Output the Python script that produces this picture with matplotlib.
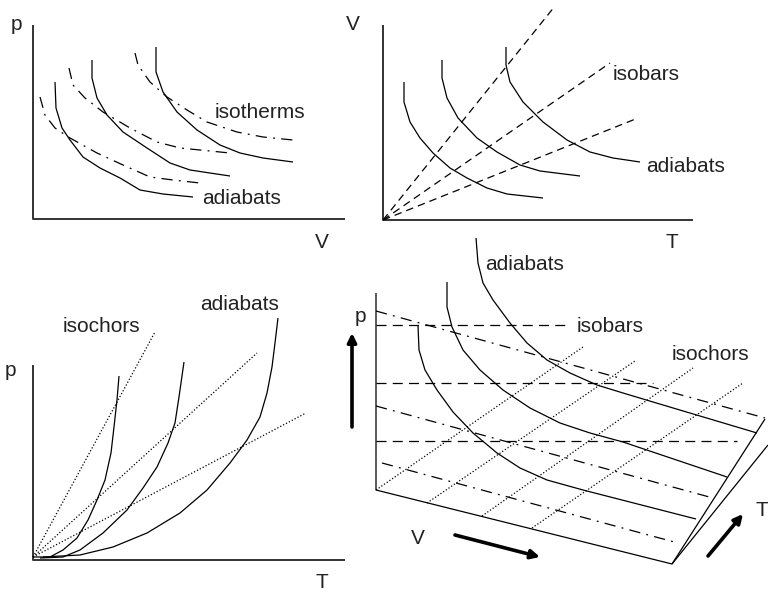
import numpy as np
import matplotlib.pyplot as plt

plt.rcParams['font.family'] = ['Liberation Sans', 'DejaVu Sans']

# all sketches share one canvas, coordinates in drawing units (y grows downward)

# ---- p-V (top left)
pv_frame = [(33, 25), (33, 219), (345, 219)]
pv_adiabats = [
    [(55, 82), (56, 108), (62, 128), (70, 140), (83, 157), (100, 168), (120, 178),
     (140, 190), (163, 194), (193, 197)],
    [(92, 60), (92, 78), (97, 98), (107, 115), (123, 132), (147, 148), (170, 163),
     (190, 170), (230, 176)],
    [(156, 47), (156, 72), (163, 92), (177, 112), (197, 130), (220, 145), (240, 153),
     (263, 158), (293, 162)],
]
pv_isotherms = [
    [(40, 97), (45, 115), (55, 128), (70, 138), (97, 153), (123, 165), (150, 177),
     (173, 180), (200, 183)],
    [(69, 68), (73, 85), (85, 98), (103, 112), (130, 128), (157, 142), (180, 148), (230, 153)],
    [(135, 53), (138, 65), (150, 82), (167, 97), (187, 110), (207, 122), (237, 132),
     (263, 137), (293, 140)],
]

# ---- V-T (top right)
vt_frame = [(383, 25), (383, 220), (693, 220)]
vt_origin = (383, 220)
vt_isobar_ends = [(555, 6), (610, 63), (638, 118)]
vt_adiabats = [
    [(404, 82), (404, 102), (410, 122), (420, 138), (433, 153), (450, 168), (467, 178),
     (487, 188), (507, 194), (543, 198)],
    [(442, 60), (442, 78), (447, 98), (458, 118), (477, 138), (497, 152), (520, 165),
     (540, 171), (580, 176)],
    [(506, 47), (506, 65), (510, 82), (523, 102), (543, 122), (567, 140), (590, 152),
     (613, 158), (640, 162)],
]

# ---- p-T (bottom left)
pt_frame = [(33, 365), (33, 560), (345, 560)]
pt_origin = (33, 557)
pt_isochor_ends = [(155, 332), (257, 353), (306, 413)]
pt_adiabats = [
    [(33, 557), (50, 557), (63, 550), (77, 538), (88, 520), (97, 500), (105, 480),
     (111, 453), (114, 427), (117, 400), (119, 376)],
    [(40, 558), (63, 557), (80, 550), (103, 533), (127, 510), (143, 488), (157, 467),
     (168, 443), (175, 423), (179, 397), (184, 362)],
    [(43, 557), (80, 555), (113, 547), (147, 533), (180, 513), (207, 490), (230, 463),
     (247, 440), (260, 417), (267, 393), (272, 367), (275, 343), (278, 318)],
]

# ---- p-V-T surface (bottom right)
pvt_edges = [
    [(376, 293), (376, 490), (672, 564), (765, 419)],
    [(672, 564), (768, 445)],
]
pvt_isobars = [((376, 325), (568, 325)), ((376, 383), (653, 383)), ((376, 441), (737, 441))]
pvt_isotherms = [((376, 311), (765, 418)), ((376, 406), (713, 498)), ((382, 463), (678, 543))]
pvt_isochors = [((376, 490), (583, 347)), ((427, 503), (635, 361)),
                ((482, 516), (693, 368)), ((532, 528), (743, 383))]
pvt_adiabats = [
    [(418, 325), (419, 350), (425, 370), (437, 390), (453, 412), (473, 433), (497, 453),
     (520, 468), (547, 480), (583, 490), (696, 519)],
    [(447, 282), (447, 307), (452, 327), (463, 350), (480, 370), (503, 390), (530, 408),
     (560, 423), (590, 433), (623, 442), (727, 477)],
    [(476, 238), (478, 263), (483, 283), (493, 300), (510, 323), (527, 343), (547, 360),
     (570, 373), (597, 385), (623, 393), (653, 402), (757, 433)],
]
pvt_arrows = {'p': ((352, 427), (352, 333)), 'V': ((455, 535), (540, 557)), 'T': ((708, 556), (743, 514))}

labels = [
    ('p', 16, 25), ('V', 322, 243), ('isotherms', 215, 112), ('adiabats', 202, 199),
    ('V', 353, 24), ('T', 672, 242), ('isobars', 613, 75), ('adiabats', 646, 167),
    ('p', 10, 370), ('T', 322, 583), ('isochors', 63, 326), ('adiabats', 200, 304),
    ('p', 360, 317), ('adiabats', 485, 264), ('isobars', 577, 326), ('isochors', 672, 355),
    ('V', 418, 538), ('T', 762, 510),
]

fig = plt.figure(figsize=(7.68, 5.92), dpi=100)
ax = fig.add_axes([0, 0, 1, 1])
ax.set_xlim(0, 768)
ax.set_ylim(592, 0)
ax.axis('off')

lw = 0.9
solid = dict(color='k', lw=lw)
dashdot = dict(color='k', lw=lw, linestyle=(0, (9, 5, 1.5, 5)))
dashed = dict(color='k', lw=lw, linestyle=(0, (6, 4)))
dashed_long = dict(color='k', lw=lw, linestyle=(0, (8, 5)))
dotted = dict(color='k', lw=lw, linestyle=(0, (1, 1.6)))
frame = dict(color='#333333', lw=1.4)


def line(pts, **kw):
    pts = np.array(pts)
    ax.plot(pts[:, 0], pts[:, 1], solid_capstyle='butt', solid_joinstyle='round', **kw)


for fr in (pv_frame, vt_frame, pt_frame):
    line(fr, **frame)

for c in pv_adiabats:
    line(c, **solid)
for c in pv_isotherms:
    line(c, **dashdot)

for e in vt_isobar_ends:
    line([vt_origin, e], **dashed)
for c in vt_adiabats:
    line(c, **solid)

for e in pt_isochor_ends:
    line([pt_origin, e], **dotted)
for c in pt_adiabats:
    line(c, **solid)

for e in pvt_edges:
    line(e, **solid)
for s in pvt_isobars:
    line(s, **dashed_long)
for s in pvt_isotherms:
    line(s, **dashdot)
for s in pvt_isochors:
    line(s, **dotted)
for c in pvt_adiabats:
    line(c, **solid)

for tail, tip in pvt_arrows.values():
    ax.annotate('', xy=tip, xytext=tail,
                arrowprops=dict(arrowstyle='-|>', lw=2.6, color='k',
                                mutation_scale=13, shrinkA=0, shrinkB=0))

for txt, x, y in labels:
    ha = 'center' if len(txt) == 1 else 'left'
    ax.text(x, y, txt, fontsize=15, ha=ha, va='center', color='#222222')

fig.savefig('out.png', dpi=100)
